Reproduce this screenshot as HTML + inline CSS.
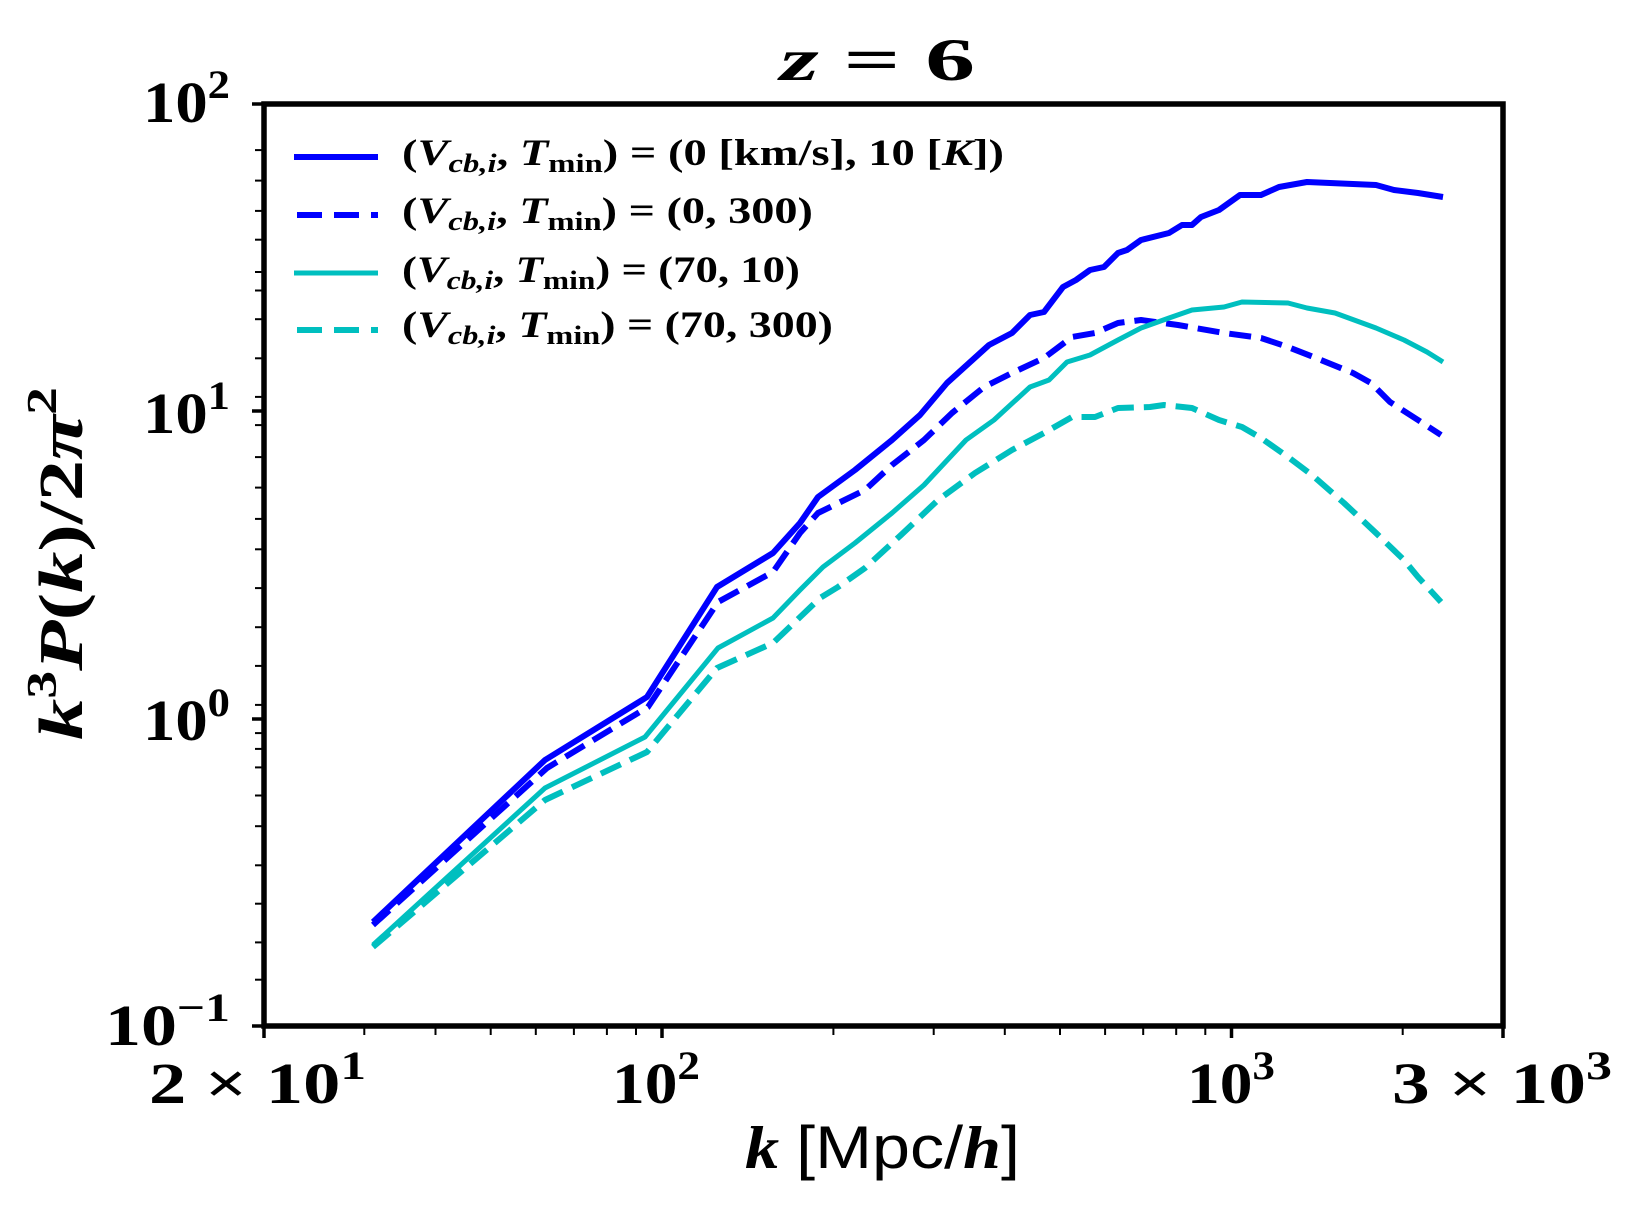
<!DOCTYPE html>
<html><head><meta charset="utf-8"><style>
html,body{margin:0;padding:0;background:#fff;}
svg{display:block;}
text{font-family:"Liberation Serif",serif;font-weight:bold;fill:#000;}
.it{font-style:italic;}
</style></head><body>
<svg width="1636" height="1212" viewBox="0 0 1636 1212" xmlns="http://www.w3.org/2000/svg">
<rect width="1636" height="1212" fill="#fff"/>
<text x="780" y="80" font-size="60" textLength="195" lengthAdjust="spacingAndGlyphs"><tspan class="it">z</tspan> = 6</text>

<g stroke="#000" stroke-width="3.5">
<line x1="252" x2="264" y1="104" y2="104"/>
<line x1="252" x2="264" y1="411" y2="411"/>
<line x1="252" x2="264" y1="719" y2="719"/>
<line x1="252" x2="264" y1="1026" y2="1026"/>
</g>

<g font-size="58">
<text x="143" y="122" textLength="87" lengthAdjust="spacingAndGlyphs">10<tspan dy="-24" font-size="40">2</tspan></text>
<text x="143" y="433" textLength="87" lengthAdjust="spacingAndGlyphs">10<tspan dy="-24" font-size="40">1</tspan></text>
<text x="143" y="740" textLength="87" lengthAdjust="spacingAndGlyphs">10<tspan dy="-24" font-size="40">0</tspan></text>
<text x="105" y="1045" textLength="125" lengthAdjust="spacingAndGlyphs">10<tspan dy="-24" font-size="40">−1</tspan></text>
</g>
<g font-size="58">
<text x="149" y="1103" textLength="217" lengthAdjust="spacingAndGlyphs">2 × 10<tspan dy="-24" font-size="40">1</tspan></text>
<text x="612" y="1103" textLength="88" lengthAdjust="spacingAndGlyphs">10<tspan dy="-24" font-size="40">2</tspan></text>
<text x="1187" y="1103" textLength="88" lengthAdjust="spacingAndGlyphs">10<tspan dy="-24" font-size="40">3</tspan></text>
<text x="1392" y="1103" textLength="220" lengthAdjust="spacingAndGlyphs">3 × 10<tspan dy="-24" font-size="40">3</tspan></text>
</g>
<text x="745" y="1168" font-size="60" textLength="275" lengthAdjust="spacingAndGlyphs"><tspan class="it">k</tspan> <tspan font-weight="normal" font-family="Liberation Sans, sans-serif">[Mpc/</tspan><tspan class="it">h</tspan><tspan font-weight="normal" font-family="Liberation Sans, sans-serif">]</tspan></text>
<text transform="translate(82,740) rotate(-90)" font-size="62" textLength="353" lengthAdjust="spacingAndGlyphs"><tspan class="it">k</tspan><tspan dy="-26" font-size="42">3</tspan><tspan dy="26" class="it">P</tspan>(<tspan class="it">k</tspan>)/2<tspan class="it">π</tspan><tspan dy="-26" font-size="42">2</tspan></text>

<g fill="none" stroke-linejoin="round">
<polyline stroke="#0000ff" stroke-width="6" points="373,922 545,760 647,697 717,587 773,553 800,523 818,497 855,470 892,440 920,415 947,383 989,345 1012,333 1030,315 1044,312 1063,287 1076,280 1090,270 1104,267 1118,253 1127,250 1141,240 1169,233 1182,225 1192,225 1201,217 1219,210 1240,195 1261,195 1279,187 1307,182 1330,183 1376,185 1394,190 1418,193 1443,197"/>
<polyline stroke="#0000ff" stroke-width="6" stroke-dasharray="22,10" points="373,925 547,768 648,707 718,602 773,572 800,533 818,513 865,490 892,465 924,440 952,413 984,387 1012,373 1044,358 1072,337 1095,333 1118,323 1141,320 1178,325 1224,333 1261,338 1288,347 1316,358 1353,373 1371,383 1390,402 1418,420 1441,435"/>
<polyline stroke="#00bfbf" stroke-width="5" points="373,945 545,788 645,737 718,648 773,618 800,590 823,567 855,543 892,513 924,485 966,440 994,420 1030,387 1049,380 1067,362 1090,355 1118,340 1141,328 1169,318 1192,310 1224,307 1242,302 1288,303 1307,308 1335,313 1376,328 1404,340 1427,352 1443,362"/>
<polyline stroke="#00bfbf" stroke-width="6" stroke-dasharray="22,10" points="373,947 545,800 647,752 717,668 773,643 820,598 838,587 865,568 901,535 938,500 975,473 1012,450 1044,433 1072,417 1095,417 1118,408 1150,407 1164,405 1192,408 1219,420 1242,427 1261,438 1288,457 1312,475 1344,503 1376,533 1404,560 1418,577 1441,602"/>
</g>

<line x1="294" x2="378" y1="157" y2="157" stroke="#0000ff" stroke-width="6"/>
<line x1="297" x2="378" y1="215" y2="215" stroke="#0000ff" stroke-width="6" stroke-dasharray="25,12"/>
<line x1="294" x2="378" y1="273" y2="273" stroke="#00bfbf" stroke-width="5"/>
<line x1="297" x2="378" y1="330" y2="330" stroke="#00bfbf" stroke-width="6" stroke-dasharray="25,12"/>
<g font-size="37">
<text x="402" y="165" textLength="602" lengthAdjust="spacingAndGlyphs">(<tspan class="it">V</tspan><tspan class="it" font-size="26" dy="7">cb,i</tspan><tspan dy="-7">, </tspan><tspan class="it">T</tspan><tspan font-size="26" dy="7">min</tspan><tspan dy="-7">) = (0 [km/s], 10 [</tspan><tspan class="it">K</tspan>])</text>
<text x="402" y="223" textLength="411" lengthAdjust="spacingAndGlyphs">(<tspan class="it">V</tspan><tspan class="it" font-size="26" dy="7">cb,i</tspan><tspan dy="-7">, </tspan><tspan class="it">T</tspan><tspan font-size="26" dy="7">min</tspan><tspan dy="-7">) = (0, 300)</tspan></text>
<text x="402" y="282" textLength="398" lengthAdjust="spacingAndGlyphs">(<tspan class="it">V</tspan><tspan class="it" font-size="26" dy="7">cb,i</tspan><tspan dy="-7">, </tspan><tspan class="it">T</tspan><tspan font-size="26" dy="7">min</tspan><tspan dy="-7">) = (70, 10)</tspan></text>
<text x="402" y="337" textLength="431" lengthAdjust="spacingAndGlyphs">(<tspan class="it">V</tspan><tspan class="it" font-size="26" dy="7">cb,i</tspan><tspan dy="-7">, </tspan><tspan class="it">T</tspan><tspan font-size="26" dy="7">min</tspan><tspan dy="-7">) = (70, 300)</tspan></text>
</g>

<rect x="264" y="104" width="1239" height="922" fill="none" stroke="#000" stroke-width="5.5"/>

<g stroke="#000" stroke-width="2">
<line x1="255" x2="264" y1="150.1" y2="150.1"/><line x1="255" x2="264" y1="180.6" y2="180.6"/><line x1="255" x2="264" y1="210.9" y2="210.9"/><line x1="255" x2="264" y1="239.7" y2="239.7"/><line x1="255" x2="264" y1="272.0" y2="272.0"/><line x1="255" x2="264" y1="290.5" y2="290.5"/><line x1="255" x2="264" y1="319.2" y2="319.2"/><line x1="255" x2="264" y1="358.3" y2="358.3"/><line x1="255" x2="264" y1="396.9" y2="396.9"/>
<line x1="255" x2="264" y1="425.1" y2="425.1"/><line x1="255" x2="264" y1="457.1" y2="457.1"/><line x1="255" x2="264" y1="487.6" y2="487.6"/><line x1="255" x2="264" y1="518.9" y2="518.9"/><line x1="255" x2="264" y1="549.3" y2="549.3"/><line x1="255" x2="264" y1="588.1" y2="588.1"/><line x1="255" x2="264" y1="627.2" y2="627.2"/><line x1="255" x2="264" y1="665.9" y2="665.9"/><line x1="255" x2="264" y1="704.9" y2="704.9"/>
<line x1="255" x2="264" y1="733.1" y2="733.1"/><line x1="255" x2="264" y1="748.9" y2="748.9"/><line x1="255" x2="264" y1="767.4" y2="767.4"/><line x1="255" x2="264" y1="795.5" y2="795.5"/><line x1="255" x2="264" y1="826.2" y2="826.2"/><line x1="255" x2="264" y1="865.3" y2="865.3"/><line x1="255" x2="264" y1="903.7" y2="903.7"/><line x1="255" x2="264" y1="942.4" y2="942.4"/><line x1="255" x2="264" y1="979.7" y2="979.7"/>
</g>
<g stroke="#000" stroke-width="2">
<line x1="364.3" x2="364.3" y1="1026" y2="1035"/><line x1="435.5" x2="435.5" y1="1026" y2="1035"/><line x1="490.7" x2="490.7" y1="1026" y2="1035"/><line x1="535.8" x2="535.8" y1="1026" y2="1035"/><line x1="573.9" x2="573.9" y1="1026" y2="1035"/><line x1="606.9" x2="606.9" y1="1026" y2="1035"/><line x1="636.0" x2="636.0" y1="1026" y2="1035"/>
<line x1="833.4" x2="833.4" y1="1026" y2="1035"/><line x1="933.7" x2="933.7" y1="1026" y2="1035"/><line x1="1004.8" x2="1004.8" y1="1026" y2="1035"/><line x1="1060.0" x2="1060.0" y1="1026" y2="1035"/><line x1="1105.1" x2="1105.1" y1="1026" y2="1035"/><line x1="1143.2" x2="1143.2" y1="1026" y2="1035"/><line x1="1176.2" x2="1176.2" y1="1026" y2="1035"/><line x1="1205.3" x2="1205.3" y1="1026" y2="1035"/>
<line x1="1402.7" x2="1402.7" y1="1026" y2="1035"/>
<line x1="264" x2="264" y1="1026" y2="1038" stroke-width="3.5"/><line x1="662" x2="662" y1="1026" y2="1038" stroke-width="3.5"/><line x1="1231.5" x2="1231.5" y1="1026" y2="1038" stroke-width="3.5"/><line x1="1503" x2="1503" y1="1026" y2="1038" stroke-width="3.5"/>
</g>
</svg>
</body></html>
